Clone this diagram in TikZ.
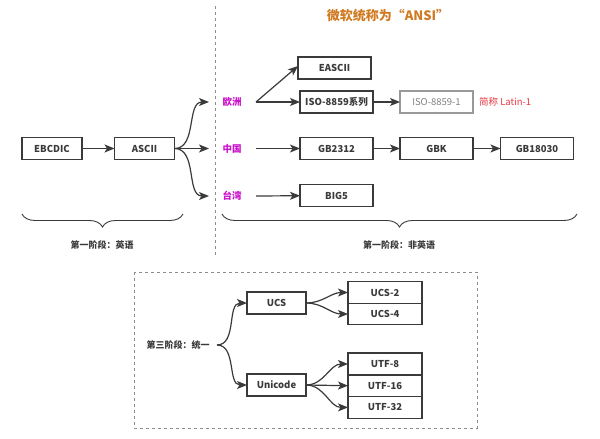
\documentclass[tikz,border=0pt]{standalone}
\usepackage{fontspec}
\setmainfont{Noto Sans CJK SC}
\usepackage{tikz}
\usetikzlibrary{arrows.meta,positioning,decorations.pathreplacing}
\definecolor{regioncol}{HTML}{CC11CC}
\definecolor{ansicol}{HTML}{D07A22}
\definecolor{aliascol}{HTML}{E8383E}
\definecolor{linecol}{HTML}{3A3A3A}

\begin{document}
\begin{tikzpicture}[x=1pt,y=-1pt,
  every node/.style={font=\fontsize{9.5}{11}\selectfont,text=linecol},
  code/.style={draw=linecol,line width=1.4pt,minimum width=73pt,minimum height=22pt,inner sep=0pt,outer sep=0pt,font=\bfseries\fontsize{9.5}{11}\selectfont},
  region/.style={text=regioncol,inner sep=0pt,font=\bfseries\fontsize{9.5}{11}\selectfont},
  arr/.style={draw=linecol,line width=1.2pt,-{Stealth[length=10pt,width=8pt,inset=2.5pt]}},
  sep/.style={draw=black!45,line width=0.8pt,dashed},
  brace/.style={draw=linecol,decorate,decoration={brace,mirror,amplitude=13pt},line width=0.9pt}]
\useasboundingbox (0,0) rectangle (600,439);

\node[code,minimum width=60pt] (ebcdic) at (52,148.5) {EBCDIC};
\node[code,minimum width=60pt] (ascii) at (144.5,148.5) {ASCII};
\draw[arr] (ebcdic) -- (ascii);

\draw[sep] (215,6) -- (215,256);
\node[font=\bfseries\fontsize{13}{15}\selectfont,text=ansicol] (ansi) at (388,16) {微软统称为“ANSI”};

\node[region] (eu) at (232,102) {欧洲};
\node[region] (cn) at (232,148.5) {中国};
\node[region] (tw) at (232,196) {台湾};
\coordinate (eu in) at (209,102);
\coordinate (cn in) at (209,148.5);
\coordinate (tw in) at (209,196);
\coordinate (eu out) at (256,102);
\coordinate (cn out) at (256,148.5);
\coordinate (tw out) at (256,196);
\draw[arr] (ascii.east) to[out=0,in=180] (eu in);
\draw[arr] (ascii.east) -- (cn in);
\draw[arr] (ascii.east) to[out=0,in=180] (tw in);

\node[code] (eascii) at (334.5,68) {EASCII};
\node[code] (iso) at (336.5,102) {ISO-8859系列};
\node[code,draw=black!40,text=black!50,font=\fontsize{9.5}{11}\selectfont] (latin) at (436.5,102) {ISO-8859-1};
\node[anchor=west,text=aliascol,inner sep=0pt] (alias) at (479,102) {简称 Latin-1};
\node[code] (gb2312) at (336.5,148.5) {GB2312};
\node[code] (gbk) at (436.5,148.5) {GBK};
\node[code] (gb18030) at (537,148.5) {GB18030};
\node[code] (big5) at (336.5,195.5) {BIG5};

\draw[arr] (eu out) -- ([yshift=2pt]eascii.west);
\draw[arr] (eu out) -- (iso);
\draw[arr] (iso) -- (latin);
\draw[arr] (cn out) -- (gb2312);
\draw[arr] (gb2312) -- (gbk);
\draw[arr] (gbk) -- (gb18030);
\draw[arr] (tw out) -- (big5);

% braces
\draw[brace] (22,214) -- (183,214);
\draw[brace] (222,214) -- (577,214);
\node[font=\bfseries\fontsize{9}{11}\selectfont] (stage1) at (102,245) {第一阶段：英语};
\node[font=\bfseries\fontsize{9}{11}\selectfont] (stage2) at (399,245) {第一阶段：非英语};

% third stage
\draw[sep] (134,272) rectangle (477,428);
\node[font=\bfseries\fontsize{9}{11}\selectfont] (stage3) at (178,345) {第三阶段：统一};
\coordinate (s3 out) at (217,345);
\node[code,minimum width=59pt] (ucs) at (276.5,303) {UCS};
\node[code,minimum width=59pt] (unicode) at (276.5,385) {Unicode};
\node[code,minimum width=74pt,minimum height=21.5pt] (ucs2) at (385,292.5) {UCS-2};
\node[code,minimum width=74pt,minimum height=21.5pt,below=0pt of ucs2] (ucs4) {UCS-4};
\node[code,minimum width=74pt,minimum height=21.7pt] (utf8) at (385,364) {UTF-8};
\node[code,minimum width=74pt,minimum height=21.7pt,below=0pt of utf8] (utf16) {UTF-16};
\node[code,minimum width=74pt,minimum height=21.7pt,below=0pt of utf16] (utf32) {UTF-32};

\draw[arr] (s3 out) to[out=0,in=180] (ucs.west);
\draw[arr] (s3 out) to[out=0,in=180] (unicode.west);
\draw[arr] (ucs.east) to[out=0,in=180] (ucs2.west);
\draw[arr] (ucs.east) to[out=0,in=180] (ucs4.west);
\draw[arr] (unicode.east) to[out=0,in=180] (utf8.west);
\draw[arr] (unicode.east) -- (utf16.west);
\draw[arr] (unicode.east) to[out=0,in=180] (utf32.west);
\end{tikzpicture}
\end{document}
